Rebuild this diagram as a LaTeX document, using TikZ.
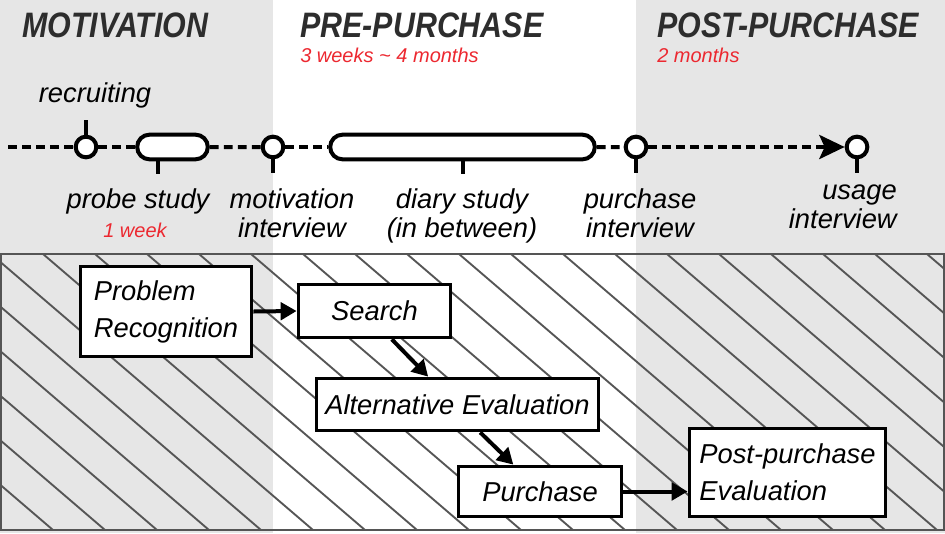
\documentclass[tikz,border=0pt]{standalone}
\usepackage{fontspec}
\setmainfont{Liberation Sans}
\newfontfamily\headfont[FakeStretch=0.86]{Liberation Sans}
\usetikzlibrary{arrows.meta,shapes.misc,positioning}
\definecolor{bggray}{RGB}{230,230,230}
\definecolor{hatchgray}{RGB}{85,85,85}
\definecolor{headgray}{RGB}{45,45,45}
\definecolor{durred}{RGB}{236,40,48}

\begin{document}
\begin{tikzpicture}[
	x=0.75pt, y=-0.75pt, % pixel grid of the reference
	lbl/.style={font=\fontsize{20.5}{21.75}\selectfont\itshape, inner sep=0pt, align=center},
	phase/.style={font=\headfont\fontsize{26.5}{26.5}\selectfont\bfseries\itshape, text=headgray, inner sep=0pt, anchor=base west},
	dur/.style={font=\fontsize{15}{15}\selectfont\itshape, text=durred, inner sep=0pt},
	evt/.style={circle, draw=black, fill=white, line width=3pt, inner sep=0pt, minimum size=15.5pt},
	pill/.style={rounded rectangle, draw=black, fill=white, line width=3pt, inner sep=0pt, minimum height=18.5pt},
	tline/.style={line width=3pt, dash pattern=on 6.5pt off 4pt},
	tick/.style={line width=3pt},
	stage/.style={draw=black, fill=white, line width=2.4pt, inner sep=0pt, font=\fontsize{20.5}{27.75}\selectfont\itshape},
	flow/.style={line width=3pt, -{Triangle[length=12pt,width=13pt]}},
	hatch/.style={hatchgray, line width=1.4pt}]
	\useasboundingbox (0,0) rectangle (945,533);
	% phases
	\fill[bggray] (0,0) rectangle (273,533);
	\fill[bggray] (636,0) rectangle (945,533);
	\begin{scope}
		\clip (0,254) rectangle (945,530);
		\foreach \k in {-7,...,17}
			\draw[hatch] ({43+52*\k},254) -- ++(322,276);
	\end{scope}
	\draw[hatchgray, line width=1.8pt] (1,254) rectangle (944,530);

	\path 	(22,37) 	node 	(hmot) [phase] {MOTIVATION}
			(300,37) 	node 	(hpre) [phase] {PRE-PURCHASE}
			(657,37) 	node 	(hpost) [phase] {POST-PURCHASE}
			(300,62) 	node 	(dpre) [dur, anchor=base west] {3 weeks \~{} 4 months}
			(657,62) 	node 	(dpost) [dur, anchor=base west] {2 months};

	% timeline
	\coordinate (t0) at (8,147);
	\path 	(86,147) 	node 	(rec) 	[evt] {}
			(172.5,147) node 	(probe) [pill, minimum width=53pt] {}
			(273,147) 	node 	(motiv) [evt] {}
			(462.5,147) node 	(diary) [pill, minimum width=198.5pt] {}
			(636,147) 	node 	(purch) [evt] {}
			(857,147) 	node 	(usage) [evt] {};
	\draw[tline] (t0) -- (rec);
	\draw[tline] (rec) -- (probe);
	\draw[tline] (probe) -- (motiv);
	\draw[tline] (motiv) -- (diary);
	\draw[tline] (diary) -- (purch);
	\draw[tline, -{Stealth[length=19pt,width=18pt,inset=4pt]}] (purch) -- (usage);
	\draw[tick] (rec.north) -- ++(0,-15);
	\draw[tick] ([xshift=-10.9pt]probe.south) -- ++(0,13);
	\draw[tick] (motiv.south) -- ++(0,14);
	\draw[tick] (diary.south) -- ++(0,13);
	\draw[tick] (purch.south) -- ++(0,14);
	\draw[tick] (usage.south) -- ++(0,14);

	\path 	(95,102) 	node 	(lrec) 	[lbl, anchor=base] {recruiting}
			(138,208) 	node 	(lprobe) [lbl, anchor=base] {probe study}
			(135,237) 	node 	(dprobe) [dur, anchor=base] {1 week}
			(292,237) 	node 	(lmotiv) [lbl, anchor=base] {motivation\\interview}
			(462,237) 	node 	(ldiary) [lbl, anchor=base] {diary study\\(in between)}
			(640,237) 	node 	(lpurch) [lbl, anchor=base] {purchase\\interview}
			(897,228) 	node 	(lusage) [lbl, align=right, anchor=base east] {usage\\interview};

	% decision stages
	\path 	(166,311.5) node 	(prob) 	[stage, minimum width=128.6pt, minimum height=67.9pt, align=left] {Problem\\Recognition}
			(374.5,311) node 	(srch) 	[stage, minimum width=114.4pt, minimum height=40.1pt] {Search}
			(457.5,404.5) node 	(alt) 	[stage, minimum width=211.9pt, minimum height=39.4pt] {Alternative Evaluation}
			(540,491.5) node 	(buy) 	[stage, minimum width=122.6pt, minimum height=37.9pt] {Purchase}
			(787.5,472.5) node 	(post) 	[stage, minimum width=147.4pt, minimum height=66.4pt, align=left] {Post-purchase\\Evaluation};
	\draw[flow] (prob.east) -- (srch.west);
	\draw[flow] ([xshift=13pt]srch.south) -- ([xshift=-22pt]alt.north);
	\draw[flow] ([xshift=17pt]alt.south) -- ([xshift=-20pt]buy.north);
	\draw[flow] (buy.east) -- (buy.east -| post.west);
\end{tikzpicture}
\end{document}
